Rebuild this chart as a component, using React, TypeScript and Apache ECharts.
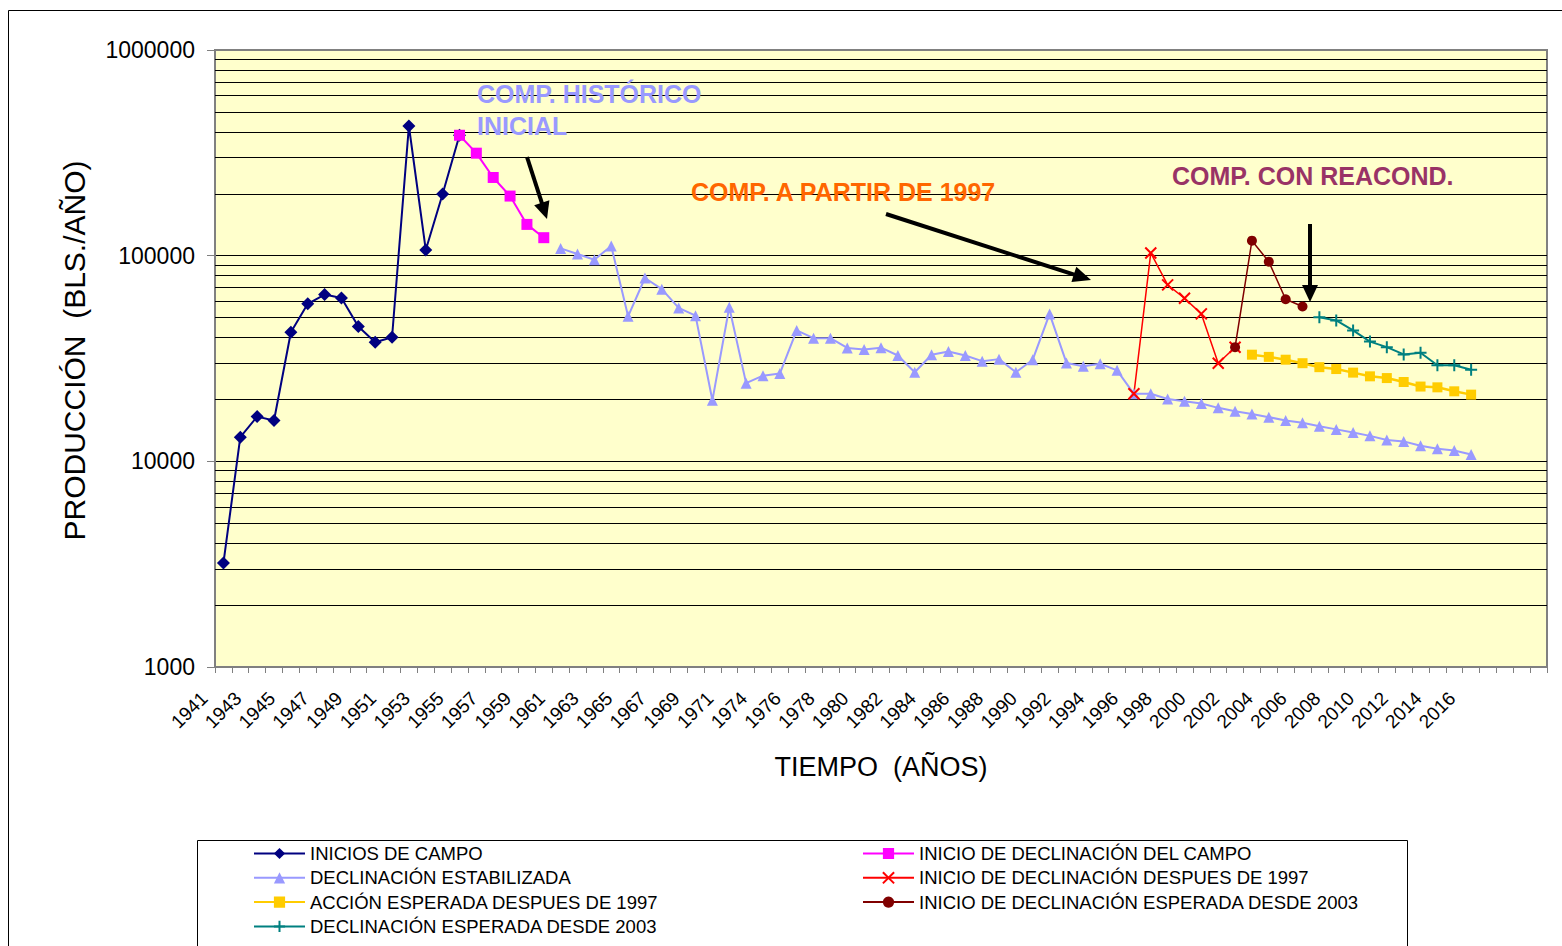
import React, { useEffect, useRef } from "react";
import * as echarts from "echarts";

const FONT = "'Liberation Sans', Arial, Helvetica, sans-serif";

// Category axis (years). One year between 1971 and 1974 has a hidden label; 4 empty categories at the end.
const categories: string[] = [
  "1941", "1942", "1943", "1944", "1945", "1946", "1947", "1948", "1949", "1950",
  "1951", "1952", "1953", "1954", "1955", "1956", "1957", "1958", "1959", "1960",
  "1961", "1962", "1963", "1964", "1965", "1966", "1967", "1968", "1969", "1970",
  "1971", "1973", "1974", "1975", "1976", "1977", "1978", "1979", "1980", "1981",
  "1982", "1983", "1984", "1985", "1986", "1987", "1988", "1989", "1990", "1991",
  "1992", "1993", "1994", "1995", "1996", "1997", "1998", "1999", "2000", "2001",
  "2002", "2003", "2004", "2005", "2006", "2007", "2008", "2009", "2010", "2011",
  "2012", "2013", "2014", "2015", "2016", " ", "  ", "   ", "    ",
];

const seriesNames: string[] = [
  "INICIOS DE CAMPO",
  "INICIO DE DECLINACIÓN DEL CAMPO",
  "DECLINACIÓN ESTABILIZADA",
  "INICIO DE DECLINACIÓN DESPUES DE 1997",
  "ACCIÓN ESPERADA DESPUES DE 1997",
  "INICIO DE DECLINACIÓN ESPERADA DESDE 2003",
  "DECLINACIÓN ESPERADA DESDE 2003",
];

// Series values (BLS./AÑO) with the category where each series starts
const iniciosCampoStart = "1941";
const iniciosCampo = [
  3200, 13100, 16500, 15800, 42400, 58300, 64700, 62300, 45200, 37900, 40100,
  427000, 106600, 199300, 385000,
];

const inicioDeclinacionStart = "1955";
const inicioDeclinacion = [385000, 315000, 240000, 194900, 141900, 122300];

const declinacionEstabilizadaStart = "1961";
const declinacionEstabilizada = [
  108500, 101900, 95600, 111500, 50700, 77900, 68700, 55700, 51100, 19800,
  56100, 24000, 26100, 26700, 43300, 39700, 39700, 35600, 35000, 35700,
  32700, 27100, 33000, 34200, 32700, 30700, 31400, 27100, 31200, 52100,
  30100, 29000, 29800, 27700, 21300, 21300, 20100, 19600, 19100, 18200,
  17500, 17000, 16400, 15800, 15400, 14800, 14300, 13800, 13300, 12700,
  12500, 11900, 11500, 11300, 10800,
];

const declinacion1997Start = "1996";
const declinacion1997 = [21300, 103100, 72100, 62100, 52100, 30000, 35900];

const accionEsperadaStart = "2003";
const accionEsperada = [
  33000, 32200, 31200, 30000, 28700, 28100, 27000, 25900, 25400, 24300, 23100,
  22900, 21900, 21100,
];

const reacondStart = "2002";
const reacond = [35900, 118300, 93500, 61400, 56600];

const declinacion2003Start = "2007";
const declinacion2003 = [50200, 48400, 43300, 38200, 35900, 33100, 33700, 29300, 29300, 27900];

// Minor logarithmic grid lines
const minorGridValues = [
  2000, 3000, 4000, 5000, 6000, 7000, 8000, 9000,
  20000, 30000, 40000, 50000, 60000, 70000, 80000, 90000,
  200000, 300000, 400000, 500000, 600000, 700000, 800000, 900000,
];

function pad(start: string, values: number[]): (number | null)[] {
  const s = categories.indexOf(start);
  return categories.map((_, i) => (i >= s && i < s + values.length ? values[i - s] : null));
}

const X_PATH = "path://M0,0L10,10M10,0L0,10";
const PLUS_PATH = "path://M5,0L5,10M0,5L10,5";

function lineSeries(
  name: string,
  data: (number | null)[],
  color: string,
  symbol: string,
  symbolSize: number,
  width: number,
  stroked = false
) {
  return {
    name,
    type: "line",
    data,
    color,
    symbol,
    symbolSize,
    showSymbol: true,
    showAllSymbol: true,
    connectNulls: false,
    z: 10,
    lineStyle: { color, width },
    itemStyle: stroked
      ? { color, borderColor: color, borderWidth: 2 }
      : { color, borderWidth: 0 },
    emphasis: { disabled: true },
    silent: true,
  };
}

function arrow(x1: number, y1: number, x2: number, y2: number, headLen: number, headHalf: number) {
  const dx = x2 - x1;
  const dy = y2 - y1;
  const len = Math.sqrt(dx * dx + dy * dy);
  const ux = dx / len;
  const uy = dy / len;
  const bx = x2 - ux * headLen;
  const by = y2 - uy * headLen;
  const px = -uy * headHalf;
  const py = ux * headHalf;
  return [
    {
      type: "line",
      shape: { x1, y1, x2: bx + ux * 2, y2: by + uy * 2 },
      style: { stroke: "#000", lineWidth: 4 },
      silent: true,
      z: 20,
    },
    {
      type: "polygon",
      shape: { points: [[x2, y2], [bx + px, by + py], [bx - px, by - py]] },
      style: { fill: "#000" },
      silent: true,
      z: 20,
    },
  ];
}

function annotation(text: string, x: number, y: number, color: string) {
  return {
    type: "text",
    x,
    y,
    silent: true,
    z: 20,
    style: {
      text,
      fill: color,
      font: `bold 25px ${FONT}`,
      textAlign: "left",
      textVerticalAlign: "middle",
      align: "left",
      verticalAlign: "middle",
    },
  };
}

export default function App() {
  const ref = useRef<HTMLDivElement>(null);

  useEffect(() => {
    document.body.style.margin = "0";
    if (!ref.current) return;
    const chart = echarts.init(ref.current, undefined, { renderer: "svg" });

    const legendText = { fontSize: 18.5, lineHeight: 18, color: "#000", fontFamily: FONT };

    const option: any = {
      animation: false,
      backgroundColor: "#ffffff",
      textStyle: { fontFamily: FONT },
      grid: {
        left: 215,
        right: 15,
        top: 50,
        bottom: 279,
        show: true,
        backgroundColor: "#FFFFCC",
        borderColor: "#808080",
        borderWidth: 2,
        containLabel: false,
        outerBoundsMode: "none",
      },
      xAxis: {
        type: "category",
        data: categories,
        boundaryGap: true,
        name: "TIEMPO  (AÑOS)",
        nameLocation: "middle",
        nameGap: 86,
        nameTextStyle: { fontSize: 27, color: "#000", fontFamily: FONT },
        axisLine: { lineStyle: { color: "#808080", width: 2 } },
        axisTick: { show: true, interval: 0, length: 6, lineStyle: { color: "#808080", width: 1 } },
        axisLabel: {
          interval: 1,
          rotate: 45,
          fontSize: 19,
          color: "#000",
          margin: 9,
          padding: [0, 27, 0, 0],
          fontFamily: FONT,
        },
        splitLine: { show: false },
      },
      yAxis: {
        type: "log",
        logBase: 10,
        min: 1000,
        max: 1000000,
        name: "PRODUCCIÓN  (BLS./AÑO)",
        nameLocation: "middle",
        nameRotate: 90,
        nameGap: 126,
        nameTextStyle: { fontSize: 30, color: "#000", fontFamily: FONT, padding: [0, 0, 0, 16] },
        axisLine: { show: true, lineStyle: { color: "#808080", width: 2 } },
        axisTick: { show: true, length: 8, lineStyle: { color: "#808080", width: 1 } },
        axisLabel: {
          fontSize: 23,
          color: "#000",
          margin: 20,
          fontFamily: FONT,
          formatter: (v: number) => String(Math.round(v)),
        },
        splitLine: {
          show: true,
          showMinLine: false,
          showMaxLine: false,
          lineStyle: { color: "#000", width: 1 },
        },
        minorTick: { show: false },
      },
      legend: [
        {
          orient: "vertical",
          left: 248,
          top: 839,
          itemWidth: 51,
          itemHeight: 14,
          itemGap: 5.3,
          selectedMode: false,
          data: [seriesNames[0], seriesNames[2], seriesNames[4], seriesNames[6]],
          textStyle: legendText,
        },
        {
          orient: "vertical",
          left: 857,
          top: 839,
          itemWidth: 51,
          itemHeight: 14,
          itemGap: 5.3,
          selectedMode: false,
          data: [seriesNames[1], seriesNames[3], seriesNames[5]],
          textStyle: legendText,
        },
      ],
      series: [
        {
          name: "gridlines",
          type: "line",
          data: pad(declinacionEstabilizadaStart, declinacionEstabilizada),
          symbol: "none",
          lineStyle: { opacity: 0 },
          silent: true,
          z: 1,
          markLine: {
            silent: true,
            symbol: "none",
            label: { show: false },
            emphasis: { disabled: true },
            lineStyle: { color: "#000", width: 1, type: "solid" },
            data: minorGridValues.map((v) => ({ yAxis: v })),
          },
        },
        lineSeries(seriesNames[0], pad(iniciosCampoStart, iniciosCampo), "#000080", "diamond", 13, 2),
        lineSeries(seriesNames[1], pad(inicioDeclinacionStart, inicioDeclinacion), "#FF00FF", "rect", 11, 2),
        lineSeries(seriesNames[2], pad(declinacionEstabilizadaStart, declinacionEstabilizada), "#9999FF", "triangle", 11, 2),
        lineSeries(seriesNames[3], pad(declinacion1997Start, declinacion1997), "#FF0000", X_PATH, 11, 1.5, true),
        lineSeries(seriesNames[4], pad(accionEsperadaStart, accionEsperada), "#FFCC00", "rect", 10, 2.5),
        lineSeries(seriesNames[5], pad(reacondStart, reacond), "#800000", "circle", 10, 1.5),
        lineSeries(seriesNames[6], pad(declinacion2003Start, declinacion2003), "#008080", PLUS_PATH, 12, 2, true),
      ],
      graphic: [
        {
          type: "rect",
          shape: { x: 8.5, y: 10.5, width: 1600, height: 1000 },
          style: { fill: "none", stroke: "#000", lineWidth: 1 },
          silent: true,
        },
        {
          type: "rect",
          shape: { x: 197.5, y: 840.5, width: 1210, height: 200 },
          style: { fill: "none", stroke: "#000", lineWidth: 1 },
          silent: true,
        },
        annotation("COMP. HISTÓRICO", 477, 94, "#9999FF"),
        annotation("INICIAL", 477, 126, "#9999FF"),
        annotation("COMP. A PARTIR DE 1997", 691, 192, "#FF6600"),
        annotation("COMP. CON REACOND.", 1172, 176, "#993366"),
        ...arrow(527, 157, 547, 219, 17, 8),
        ...arrow(886, 214, 1091, 280, 18, 8),
        ...arrow(1310, 224, 1310, 302, 17, 8),
      ],
    };

    chart.setOption(option);
    return () => {
      chart.dispose();
    };
  }, []);

  return (
    <div
      ref={ref}
      style={{ position: "fixed", left: 0, top: 0, width: 1562, height: 946, background: "#fff" }}
    />
  );
}
